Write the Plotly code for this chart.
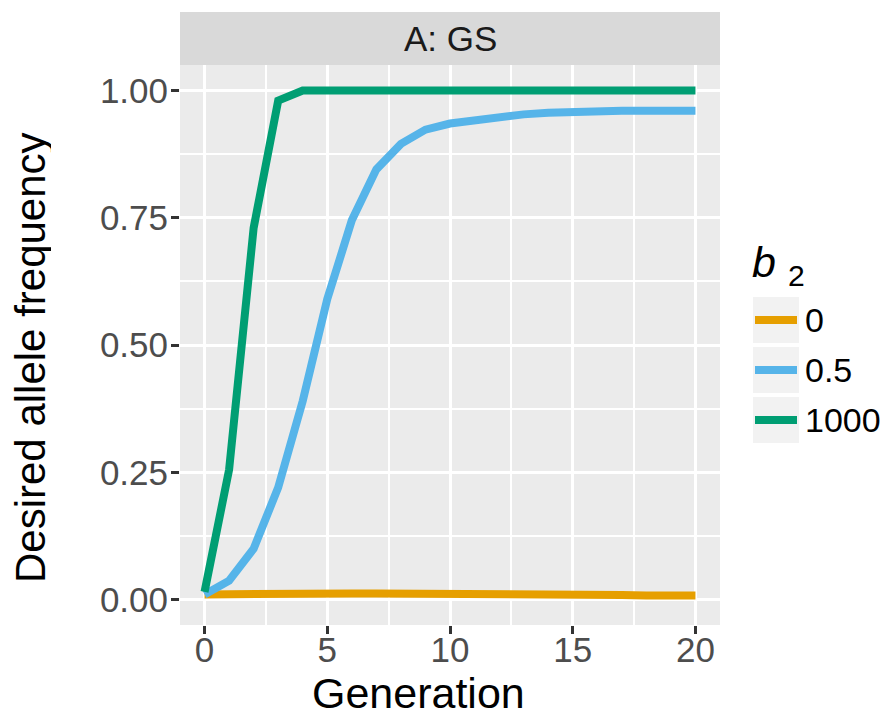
import plotly.graph_objects as go

generation = list(range(0, 21))
b2_levels = ["0", "0.5", "1000"]
freq_b0 = [0.010, 0.011, 0.011, 0.011, 0.011, 0.011, 0.012, 0.012, 0.012, 0.011, 0.010,
           0.010, 0.010, 0.010, 0.010, 0.009, 0.009, 0.009, 0.008, 0.008, 0.008]
freq_b05 = [0.010, 0.037, 0.100, 0.220, 0.390, 0.590, 0.745, 0.845, 0.895, 0.923, 0.935,
            0.942, 0.948, 0.953, 0.956, 0.958, 0.959, 0.960, 0.960, 0.960, 0.960]
freq_b1000 = [0.015, 0.255, 0.730, 0.980, 1.000, 1.000, 1.000, 1.000, 1.000, 1.000, 1.000,
              1.000, 1.000, 1.000, 1.000, 1.000, 1.000, 1.000, 1.000, 1.000, 1.000]
series = [freq_b0, freq_b05, freq_b1000]
colors = ["#E69F00", "#56B4E9", "#009E73"]
x_ticks = [0, 5, 10, 15, 20]
y_ticks = [0.0, 0.25, 0.5, 0.75, 1.0]
y_tick_labels = ["0.00", "0.25", "0.50", "0.75", "1.00"]

# the page body has an 8px margin; figure is sized to fit the 889x716 window
OFF = 8
W, H = 889 - OFF, 716 - OFF
L, R, T, B = 180 - OFF, 889 - 720, 65 - OFF, 716 - 625
pw, ph = W - L - R, H - T - B

fig = go.Figure()
for name, vals, col in zip(b2_levels, series, colors):
    fig.add_trace(go.Scatter(x=generation, y=vals, mode="lines", name=name,
                             line=dict(color=col, width=8), showlegend=False))

font = "Liberation Sans, Arial, sans-serif"
tick_size = 35
title_size = 43

fig.update_layout(
    width=W, height=H,
    margin=dict(l=L, r=R, t=T, b=B),
    paper_bgcolor="white", plot_bgcolor="#EBEBEB",
    font=dict(family=font, color="#4D4D4D"),
)
fig.update_xaxes(range=[-1, 21], tickvals=x_ticks, ticktext=[str(v) for v in x_ticks],
                 showgrid=True, gridcolor="white", gridwidth=3,
                 minor=dict(dtick=2.5, tick0=0, showgrid=True, gridcolor="white", gridwidth=1.5, ticks=""),
                 ticks="outside", ticklen=8, tickwidth=3, tickcolor="#333333",
                 tickfont=dict(size=tick_size, color="#4D4D4D"), ticklabelstandoff=-14,
                 zeroline=False, showline=False)
fig.update_yaxes(range=[-0.05, 1.05], tickvals=y_ticks, ticktext=y_tick_labels,
                 showgrid=True, gridcolor="white", gridwidth=3,
                 minor=dict(dtick=0.125, tick0=0, showgrid=True, gridcolor="white", gridwidth=1.5, ticks=""),
                 ticks="outside", ticklen=8, tickwidth=3, tickcolor="#333333",
                 tickfont=dict(size=tick_size, color="#4D4D4D"), ticklabelstandoff=-4,
                 zeroline=False, showline=False)

def px_x(p):
    # reference window pixel -> paper
    return (p - OFF - L) / pw

def px_y(p):
    return (H - B - (p - OFF)) / ph

shapes = []
annotations = []
# facet strip
shapes.append(dict(type="rect", xref="paper", yref="paper", x0=0, x1=1,
                   y0=px_y(65), y1=px_y(12), fillcolor="#D9D9D9", line=dict(width=0), layer="below"))
annotations.append(dict(text="A: GS", xref="paper", yref="paper", x=0.5, y=px_y(39),
                        xanchor="center", yanchor="middle", showarrow=False,
                        font=dict(size=tick_size, color="#1A1A1A", family=font)))
# axis titles
annotations.append(dict(text="Generation", xref="paper", yref="paper", x=px_x(418), y=px_y(693),
                        xanchor="center", yanchor="middle", showarrow=False,
                        font=dict(size=title_size, color="black", family=font)))
annotations.append(dict(text="Desired allele frequency", xref="paper", yref="paper", x=px_x(30), y=px_y(358),
                        xanchor="center", yanchor="middle", showarrow=False, textangle=-90,
                        height=42, borderpad=0,
                        font=dict(size=42, color="black", family=font)))
# legend
annotations.append(dict(text="<i>b</i> <sub>2</sub>", xref="paper", yref="paper", x=px_x(750), y=px_y(265),
                        xanchor="left", yanchor="middle", showarrow=False,
                        font=dict(size=title_size, color="black", family=font)))
for i, (name, col) in enumerate(zip(b2_levels, colors)):
    cy = 320 + 50 * i
    shapes.append(dict(type="rect", xref="paper", yref="paper", x0=px_x(753), x1=px_x(799),
                       y0=px_y(cy - 23), y1=px_y(cy + 23), fillcolor="#F2F2F2", line=dict(width=0)))
    shapes.append(dict(type="line", xref="paper", yref="paper", x0=px_x(755), x1=px_x(797),
                       y0=px_y(cy), y1=px_y(cy), line=dict(color=col, width=8)))
    annotations.append(dict(text=name, xref="paper", yref="paper", x=px_x(803), y=px_y(cy),
                            xanchor="left", yanchor="middle", showarrow=False,
                            font=dict(size=34, color="black", family=font)))

fig.update_layout(shapes=shapes, annotations=annotations)
fig.write_html("out.html")
